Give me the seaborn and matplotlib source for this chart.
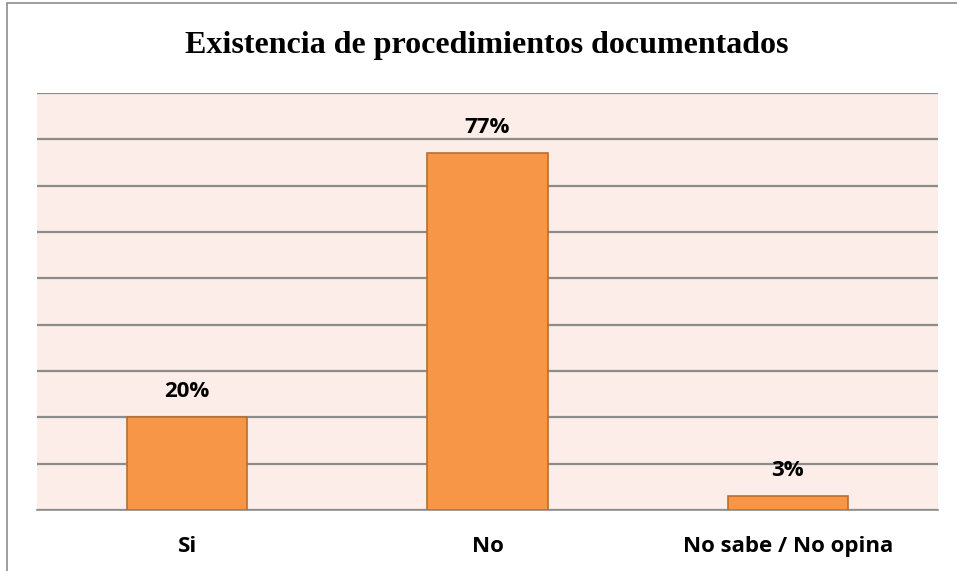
import matplotlib
matplotlib.use('Agg')
import matplotlib.pyplot as plt
import seaborn as sns
import pandas as pd
from matplotlib.patches import Rectangle

# data
categories = ['Si', 'No', 'No sabe / No opina']
percent = [20, 77, 3]
title = 'Existencia de procedimientos documentados'

df = pd.DataFrame({'Respuesta': categories, 'Porcentaje': percent})

sns.set_style('white')
plt.rcParams['font.family'] = ['Open Sans', 'DejaVu Sans']
plt.rcParams['text.color'] = 'black'
plt.rcParams['xtick.color'] = 'black'

fig = plt.figure(figsize=(9.57, 5.71), dpi=100)
ax = fig.add_axes([37 / 957, 61 / 571, 901 / 957, 417 / 571])
ax.set_facecolor('#FCEDE9')

sns.barplot(data=df, x='Respuesta', y='Porcentaje', width=0.4,
            color='#F79646', edgecolor='#B86E32', linewidth=1.2,
            saturation=1, ax=ax, zorder=3)

ax.set_ylim(0, 90)
ax.set_xlim(-0.5, 2.5)
ax.set_yticks(range(0, 91, 10))
ax.set_yticklabels([])
ax.tick_params(axis='y', length=0)
ax.grid(axis='y', color='#8C8C8C', linewidth=1.6, zorder=0)
ax.set_axisbelow(True)

# category boundary ticks
ax.set_xticks([-0.5, 0.5, 1.5, 2.5], minor=True)
ax.tick_params(axis='x', which='minor', length=7, width=1, color='#8C8C8C', direction='out')
ax.tick_params(axis='x', which='major', length=0, pad=18.5, labelsize=16, labelcolor='black')
for lbl in ax.get_xticklabels():
    lbl.set_fontweight('bold')

for s in ['top', 'left', 'right']:
    ax.spines[s].set_visible(False)
ax.spines['bottom'].set_color('#8C8C8C')
ax.spines['bottom'].set_linewidth(1.2)
ax.set_xlabel('')
ax.set_ylabel('')

ax.bar_label(ax.containers[0], labels=[f'{v}%' for v in percent],
             padding=11, fontsize=16, fontweight='bold', color='black')

fig.text(0.509, 1 - 46 / 571, title, ha='center', va='center',
         fontsize=23, fontweight='bold', family='Liberation Serif', color='black')

# outer chart border
fig.patches.append(Rectangle((7 / 957, -0.1), 1.2, 1 - 3 / 571 + 0.1,
                             transform=fig.transFigure, fill=False,
                             edgecolor='#8C8C8C', linewidth=1.2))

fig.savefig('out.png', dpi=100)
